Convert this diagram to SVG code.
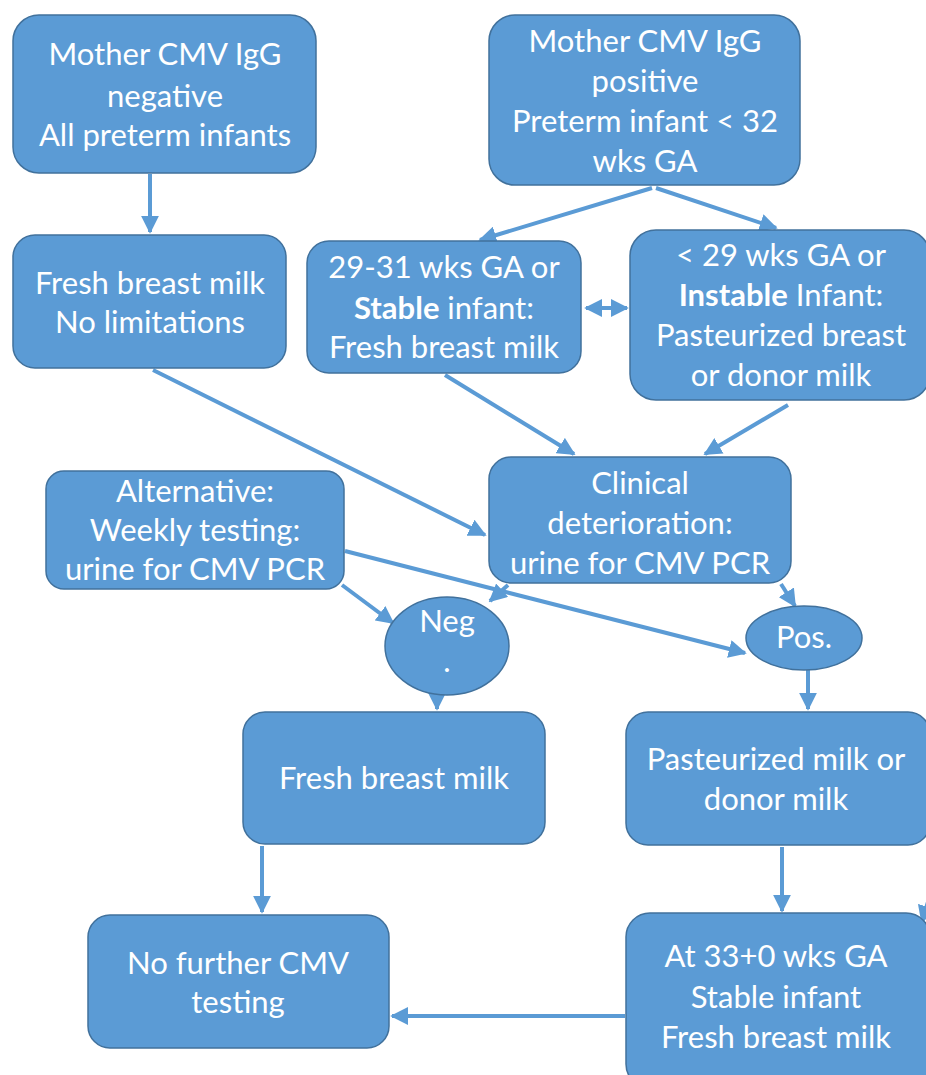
<svg xmlns="http://www.w3.org/2000/svg" width="926" height="1075" viewBox="0 0 926 1075">
<style>
.box{fill:#5B9BD5;stroke:#41719C;stroke-width:1.5}
.t{font-family:Lato,"Liberation Sans",sans-serif;font-size:31px;fill:#fff;text-anchor:middle}
.b{font-weight:bold}
.c{stroke:#5B9BD5;stroke-width:4;fill:none}
</style>
<defs>
<marker id="ah" viewBox="0 0 10 10" refX="9" refY="5" markerWidth="4.5" markerHeight="4.5" orient="auto-start-reverse" markerUnits="strokeWidth">
<path d="M0,0 L10,5 L0,10 z" fill="#5B9BD5"/>
</marker>
</defs>
<rect width="926" height="1075" fill="#fff"/>
<g id="connectors">
<line class="c" x1="150" y1="174" x2="150" y2="232" marker-end="url(#ah)"/>
<line class="c" x1="652" y1="188" x2="480" y2="240" marker-end="url(#ah)"/>
<line class="c" x1="656" y1="188" x2="776" y2="228" marker-end="url(#ah)"/>
<line class="c" x1="586" y1="308" x2="627" y2="308" marker-start="url(#ah)" marker-end="url(#ah)"/>
<line class="c" x1="153" y1="370" x2="485" y2="535" marker-end="url(#ah)"/>
<line class="c" x1="445" y1="375" x2="574" y2="454" marker-end="url(#ah)"/>
<line class="c" x1="788" y1="405" x2="705" y2="454" marker-end="url(#ah)"/>
<line class="c" x1="342" y1="585" x2="393" y2="623" marker-end="url(#ah)"/>
<line class="c" x1="345" y1="551" x2="745" y2="653" marker-end="url(#ah)"/>
<line class="c" x1="508" y1="585" x2="490" y2="601" marker-end="url(#ah)"/>
<line class="c" x1="781" y1="584" x2="795" y2="606" marker-end="url(#ah)"/>
<line class="c" x1="437" y1="686" x2="437" y2="709" marker-end="url(#ah)"/>
<line class="c" x1="808" y1="670" x2="808" y2="709" marker-end="url(#ah)"/>
<line class="c" x1="262" y1="846" x2="262" y2="912" marker-end="url(#ah)"/>
<line class="c" x1="782" y1="847" x2="782" y2="911" marker-end="url(#ah)"/>
<line class="c" x1="625" y1="1016" x2="392" y2="1016" marker-end="url(#ah)"/>
<line class="c" x1="930" y1="895" x2="922" y2="922" marker-end="url(#ah)"/>
</g>
<g id="n1"><rect class="box" x="13" y="15" width="303" height="158" rx="26"/>
<text class="t" x="165" y="65">Mother CMV IgG</text><text class="t" x="165" y="107">negative</text><text class="t" x="165" y="146">All preterm infants</text></g>
<g id="n2"><rect class="box" x="489" y="15" width="311" height="170" rx="26"/>
<text class="t" x="645" y="52">Mother CMV IgG</text><text class="t" x="645" y="92">positive</text><text class="t" x="645" y="132">Preterm infant &lt; 32</text><text class="t" x="645" y="172">wks GA</text></g>
<g id="n3"><rect class="box" x="13" y="235" width="273" height="133" rx="22"/>
<text class="t" x="150" y="294">Fresh breast milk</text><text class="t" x="150" y="333">No limitations</text></g>
<g id="n4"><rect class="box" x="307" y="241" width="274" height="132" rx="22"/>
<text class="t" x="444" y="278">29-31 wks GA or</text><text class="t" x="444" y="319"><tspan class="b">Stable</tspan> infant:</text><text class="t" x="444" y="358">Fresh breast milk</text></g>
<g id="n5"><rect class="box" x="630" y="230" width="300" height="170" rx="26"/>
<text class="t" x="781" y="266">&lt; 29 wks GA or</text><text class="t" x="781" y="306"><tspan class="b">Instable</tspan> Infant:</text><text class="t" x="781" y="346">Pasteurized breast</text><text class="t" x="781" y="386">or donor milk</text></g>
<g id="n6"><rect class="box" x="489" y="457" width="302" height="126" rx="22"/>
<text class="t" x="640" y="494">Clinical</text><text class="t" x="640" y="534">deterioration:</text><text class="t" x="640" y="574">urine for CMV PCR</text></g>
<g id="n7"><rect class="box" x="46" y="471" width="298" height="118" rx="18"/>
<text class="t" x="195" y="502">Alternative:</text><text class="t" x="195" y="541">Weekly testing:</text><text class="t" x="195" y="580">urine for CMV PCR</text></g>
<g id="n8"><ellipse class="box" cx="447" cy="646" rx="62" ry="49"/>
<text class="t" x="447" y="632">Neg</text><text class="t" x="447" y="672">.</text></g>
<g id="n9"><ellipse class="box" cx="804" cy="638" rx="58" ry="32"/>
<text class="t" x="804" y="648">Pos.</text></g>
<g id="n10"><rect class="box" x="243" y="712" width="302" height="132" rx="22"/>
<text class="t" x="394" y="789">Fresh breast milk</text></g>
<g id="n11"><rect class="box" x="626" y="712" width="304" height="133" rx="22"/>
<text class="t" x="776" y="770">Pasteurized milk or</text><text class="t" x="776" y="810">donor milk</text></g>
<g id="n12"><rect class="box" x="88" y="915" width="301" height="133" rx="22"/>
<text class="t" x="238" y="974">No further CMV</text><text class="t" x="238" y="1013">testing</text></g>
<g id="n13"><rect class="box" x="626" y="913" width="304" height="175" rx="24"/>
<text class="t" x="776" y="967">At 33+0 wks GA</text><text class="t" x="776" y="1008">Stable infant</text><text class="t" x="776" y="1048">Fresh breast milk</text></g>
</svg>
